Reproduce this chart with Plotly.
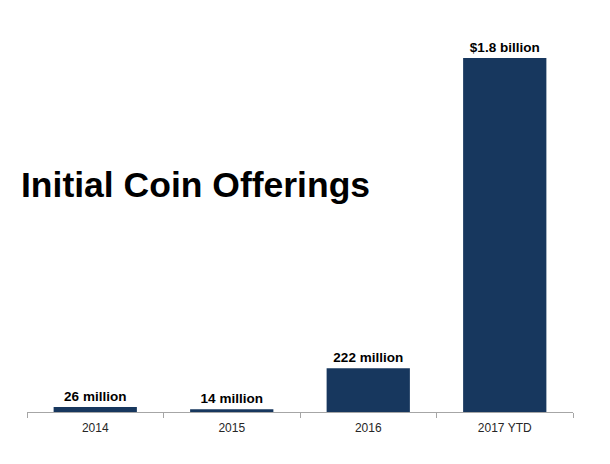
import plotly.graph_objects as go

categories = ["2014", "2015", "2016", "2017 YTD"]
values_millions = [26, 14, 222, 1800]
labels = ["26 million", "14 million", "222 million", "$1.8 billion"]
title_text = "Initial Coin Offerings"

fig = go.Figure()
fig.add_trace(go.Bar(
    x=categories,
    y=values_millions,
    text=labels,
    textposition="outside",
    cliponaxis=False,
    textfont=dict(family="Liberation Sans, Arial", size=13.5, color="black", weight="bold"),
    marker=dict(color="#17375E", line=dict(width=0)),
    hoverinfo="skip",
))

fig.update_layout(
    width=610, height=464,
    margin=dict(l=19, r=45, t=32, b=60),
    paper_bgcolor="white", plot_bgcolor="white",
    bargap=0.39,
    showlegend=False,
    uniformtext=dict(minsize=13, mode="show"),
    xaxis=dict(
        range=[-0.5, 3.5],
        showline=True, linecolor="#A6A6A6", linewidth=1,
        ticks="outside", tickson="boundaries", ticklen=5, tickcolor="#A6A6A6",
        tickfont=dict(family="Liberation Sans, Arial", size=12, color="#262626"),
        ticklabelstandoff=5,
        showgrid=False, zeroline=False,
    ),
    yaxis=dict(
        range=[0, 1891],
        visible=False, showgrid=False, zeroline=False,
    ),
    annotations=[dict(
        text=title_text, xref="paper", yref="paper",
        x=-0.014, y=0.61, xanchor="left", yanchor="middle",
        showarrow=False,
        font=dict(family="Liberation Sans, Arial", size=35.5, color="black", weight="bold"),
    )],
)

fig.write_html("out.html")
